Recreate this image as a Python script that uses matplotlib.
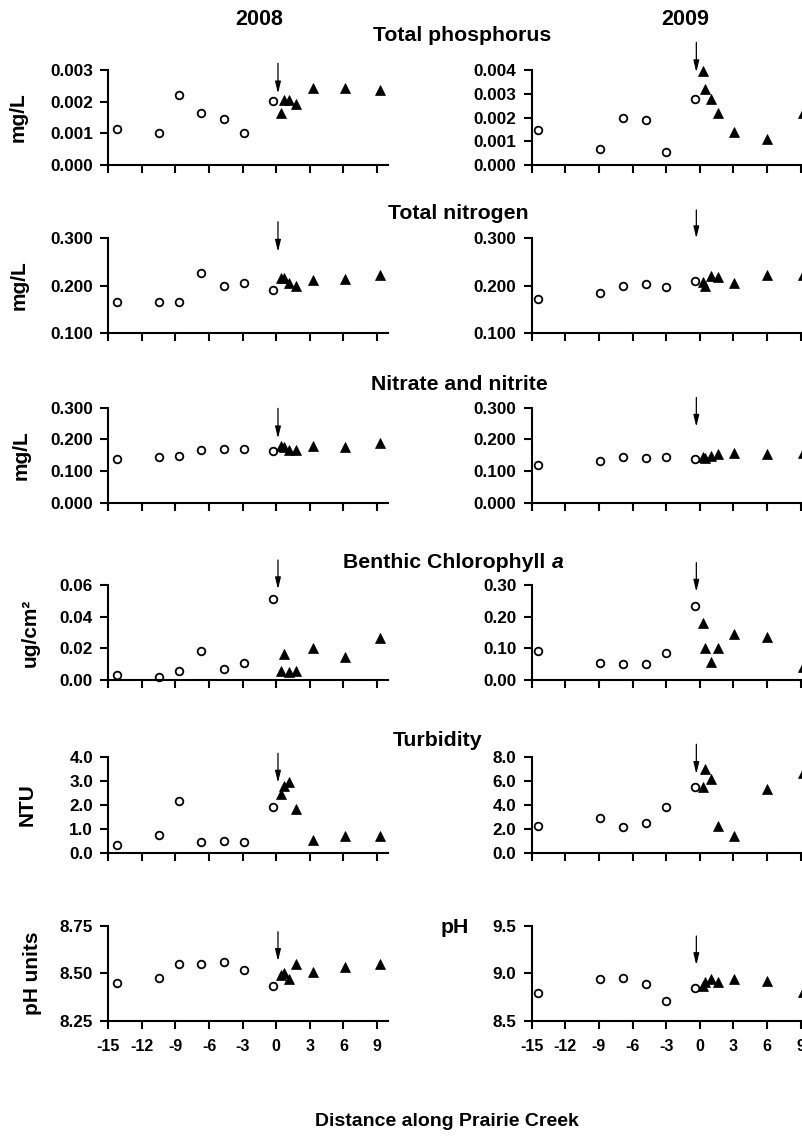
import matplotlib
matplotlib.use("Agg")
import matplotlib.pyplot as plt
from matplotlib.text import Annotation

plt.rcParams['font.family'] = ['Liberation Sans', 'DejaVu Sans']
plt.rcParams['font.weight'] = 'bold'
plt.rcParams['axes.unicode_minus'] = False

# Sampling distances (upstream = open circles, downstream = filled triangles)
x2008_up = [-14.25, -10.5, -8.7, -6.7, -4.7, -2.9, -0.3]
x2008_dn = [0.4, 0.7, 1.15, 1.75, 3.25, 6.1, 9.25]
x2009_up = [-14.4, -8.9, -6.85, -4.8, -3.05, -0.45]
x2009_dn = [0.25, 0.45, 1.05, 1.65, 3.1, 6.05, 9.25]

tp2008_up = [0.00114, 0.00101, 0.00222, 0.00164, 0.00144, 0.00101, 0.00204]
tp2008_dn = [0.00164, 0.00206, 0.00206, 0.00194, 0.00245, 0.00245, 0.00238]
tp2009_up = [0.00149, 0.00065, 0.00198, 0.00188, 0.00055, 0.00279]
tp2009_dn = [0.00395, 0.00321, 0.00280, 0.00220, 0.00139, 0.00110, 0.00220]

tn2008_up = [0.165, 0.166, 0.165, 0.227, 0.199, 0.206, 0.190]
tn2008_dn = [0.216, 0.216, 0.205, 0.199, 0.212, 0.214, 0.222]
tn2009_up = [0.172, 0.184, 0.198, 0.203, 0.196, 0.210]
tn2009_dn = [0.208, 0.200, 0.220, 0.218, 0.205, 0.222, 0.222]

no2008_up = [0.137, 0.145, 0.147, 0.166, 0.169, 0.170, 0.163]
no2008_dn = [0.180, 0.176, 0.166, 0.166, 0.180, 0.175, 0.188]
no2009_up = [0.120, 0.131, 0.144, 0.143, 0.146, 0.139]
no2009_dn = [0.144, 0.141, 0.148, 0.155, 0.157, 0.155, 0.157]

chl2008_up = [0.0032, 0.0021, 0.0057, 0.0183, 0.0069, 0.0109, 0.0514]
chl2008_dn = [0.0059, 0.0164, 0.0052, 0.0059, 0.0204, 0.0147, 0.0267]
chl2009_up = [0.093, 0.055, 0.050, 0.051, 0.086, 0.234]
chl2009_dn = [0.179, 0.102, 0.058, 0.102, 0.144, 0.137, 0.040]

turb2008_up = [0.32, 0.73, 2.17, 0.46, 0.49, 0.46, 1.93]
turb2008_dn = [2.45, 2.78, 2.98, 1.82, 0.53, 0.68, 0.68]
turb2009_up = [2.26, 2.91, 2.18, 2.51, 3.80, 5.53]
turb2009_dn = [5.53, 6.99, 6.15, 2.24, 1.43, 5.31, 6.71]

ph2008_up = [8.447, 8.477, 8.549, 8.547, 8.558, 8.517, 8.435]
ph2008_dn = [8.491, 8.503, 8.470, 8.549, 8.508, 8.531, 8.549]
ph2009_up = [8.789, 8.937, 8.954, 8.884, 8.712, 8.842]
ph2009_dn = [8.866, 8.912, 8.937, 8.912, 8.940, 8.923, 8.807]

xticks = [-15, -12, -9, -6, -3, 0, 3, 6, 9]
xtick_labels = ['-15', '-12', '-9', '-6', '-3', '0', '3', '6', '9']

# discharge location of the outfall
outfall_2008 = 0.15
outfall_2009 = -0.3

W, H = 802, 1139
fig = plt.figure(figsize=(W / 100, H / 100), dpi=100)

col_left = [108.3, 531.7]
col_width = 280.0
row_box = [(70.3, 164.8), (237.7, 333.3), (407.7, 503.0),
           (585.0, 680.0), (757.3, 852.7), (925.7, 1020.7)]

rows = [
    dict(ylim=[(0, 0.003), (0, 0.004)],
         yticks=[[0, 0.001, 0.002, 0.003], [0, 0.001, 0.002, 0.003, 0.004]],
         fmt=['{:.3f}', '{:.3f}'],
         data=[(tp2008_up, tp2008_dn), (tp2009_up, tp2009_dn)],
         arrows=[(1.074, 0.755), (1.296, 0.979)]),
    dict(ylim=[(0.1, 0.3), (0.1, 0.3)],
         yticks=[[0.1, 0.2, 0.3], [0.1, 0.2, 0.3]],
         fmt=['{:.3f}', '{:.3f}'],
         data=[(tn2008_up, tn2008_dn), (tn2009_up, tn2009_dn)],
         arrows=[(1.167, 0.853), (1.29, 0.994)]),
    dict(ylim=[(0, 0.3), (0, 0.3)],
         yticks=[[0, 0.1, 0.2, 0.3], [0, 0.1, 0.2, 0.3]],
         fmt=['{:.3f}', '{:.3f}'],
         data=[(no2008_up, no2008_dn), (no2009_up, no2009_dn)],
         arrows=[(0.993, 0.678), (1.107, 0.80)]),
    dict(ylim=[(0, 0.06), (0, 0.3)],
         yticks=[[0, 0.02, 0.04, 0.06], [0, 0.1, 0.2, 0.3]],
         fmt=['{:.2f}', '{:.2f}'],
         data=[(chl2008_up, chl2008_dn), (chl2009_up, chl2009_dn)],
         arrows=[(1.263, 0.955), (1.235, 0.929)]),
    dict(ylim=[(0, 4), (0, 8)],
         yticks=[[0, 1, 2, 3, 4], [0, 2, 4, 6, 8]],
         fmt=['{:.1f}', '{:.1f}'],
         data=[(turb2008_up, turb2008_dn), (turb2009_up, turb2009_dn)],
         arrows=[(1.042, 0.734), (1.137, 0.825)]),
    dict(ylim=[(8.25, 8.75), (8.5, 9.5)],
         yticks=[[8.25, 8.5, 8.75], [8.5, 9.0, 9.5]],
         fmt=['{:.2f}', '{:.1f}'],
         data=[(ph2008_up, ph2008_dn), (ph2009_up, ph2009_dn)],
         arrows=[(0.937, 0.628), (0.891, 0.585)]),
]

xs = [(x2008_up, x2008_dn), (x2009_up, x2009_dn)]
outfalls = [outfall_2008, outfall_2009]

for r, spec in enumerate(rows):
    top, bot = row_box[r]
    for c in range(2):
        ax = fig.add_axes([col_left[c] / W, 1 - bot / H, col_width / W, (bot - top) / H])
        ax.set_xlim(-15, 10)
        ax.set_ylim(*spec['ylim'][c])
        for s in ('top', 'right'):
            ax.spines[s].set_visible(False)
        for s in ('left', 'bottom'):
            ax.spines[s].set_linewidth(1.5)
        ax.set_xticks(xticks)
        ax.set_yticks(spec['yticks'][c])
        ax.set_yticklabels([spec['fmt'][c].format(v) for v in spec['yticks'][c]])
        if r == len(rows) - 1:
            ax.set_xticklabels(xtick_labels)
        else:
            ax.set_xticklabels([])
        ax.tick_params(axis='both', direction='out', length=6, width=1.5)
        ax.tick_params(axis='x', pad=7, labelsize=11.5)
        ax.tick_params(axis='y', pad=5, labelsize=12.3)
        for lab in ax.get_xticklabels() + ax.get_yticklabels():
            lab.set_fontweight('bold')
        up, dn = spec['data'][c]
        xu, xd = xs[c]
        ax.plot(xu, up, linestyle='none', marker='o', ms=5.5, mfc='white',
                mec='black', mew=1.3, clip_on=False)
        ax.plot(xd, dn, linestyle='none', marker='^', ms=7.5, mfc='black',
                mec='black', mew=0.5, clip_on=False)
        a_top, a_tip = spec['arrows'][c]
        ax.annotate('', xy=(outfalls[c], a_tip), xytext=(outfalls[c], a_top),
                    xycoords=('data', 'axes fraction'),
                    textcoords=('data', 'axes fraction'),
                    arrowprops=dict(arrowstyle='-|>,head_length=0.7,head_width=0.17',
                                    lw=0.9, color='black', shrinkA=0, shrinkB=0,
                                    mutation_scale=10),
                    annotation_clip=False)


def ftext(x, y, s, **kw):
    return fig.text(x / W, 1 - y / H, s, fontweight='bold', **kw)


TITLE = 15.3

# Year headings
ftext(259, 25, '2008', fontsize=15.5, ha='center', va='baseline')
ftext(685, 25, '2009', fontsize=15.5, ha='center', va='baseline')

# Panel titles
ftext(462, 40.7, 'Total phosphorus', fontsize=TITLE, ha='center', va='baseline')
ftext(458, 219, 'Total nitrogen', fontsize=TITLE, ha='center', va='baseline')
ftext(459, 389.5, 'Nitrate and nitrite', fontsize=TITLE, ha='center', va='baseline')
t_chl = ftext(343.3, 568.3, 'Benthic Chlorophyll ', fontsize=TITLE,
              ha='left', va='baseline')
fig.add_artist(Annotation('a', xy=(1.0, 0.0), xycoords=t_chl, ha='left',
                          va='bottom', fontsize=TITLE, fontweight='bold',
                          style='italic'))
ftext(438, 745.5, 'Turbidity', fontsize=TITLE, ha='center', va='baseline')
ftext(455, 933, 'pH', fontsize=TITLE, ha='center', va='baseline')

# Y-axis labels
ylabels = ['mg/L', 'mg/L', 'mg/L', 'ug/cm²', 'NTU', 'pH units']
ylab_x = [18.5, 19.5, 21, 30, 27, 32]
for r, lab in enumerate(ylabels):
    top, bot = row_box[r]
    ftext(ylab_x[r], (top + bot) / 2, lab, fontsize=15, rotation=90,
          ha='center', va='center')

# Shared x-axis label
ftext(447, 1122, 'Distance along Prairie Creek', fontsize=14, ha='center', va='center')

fig.savefig('out.png', dpi=100)
